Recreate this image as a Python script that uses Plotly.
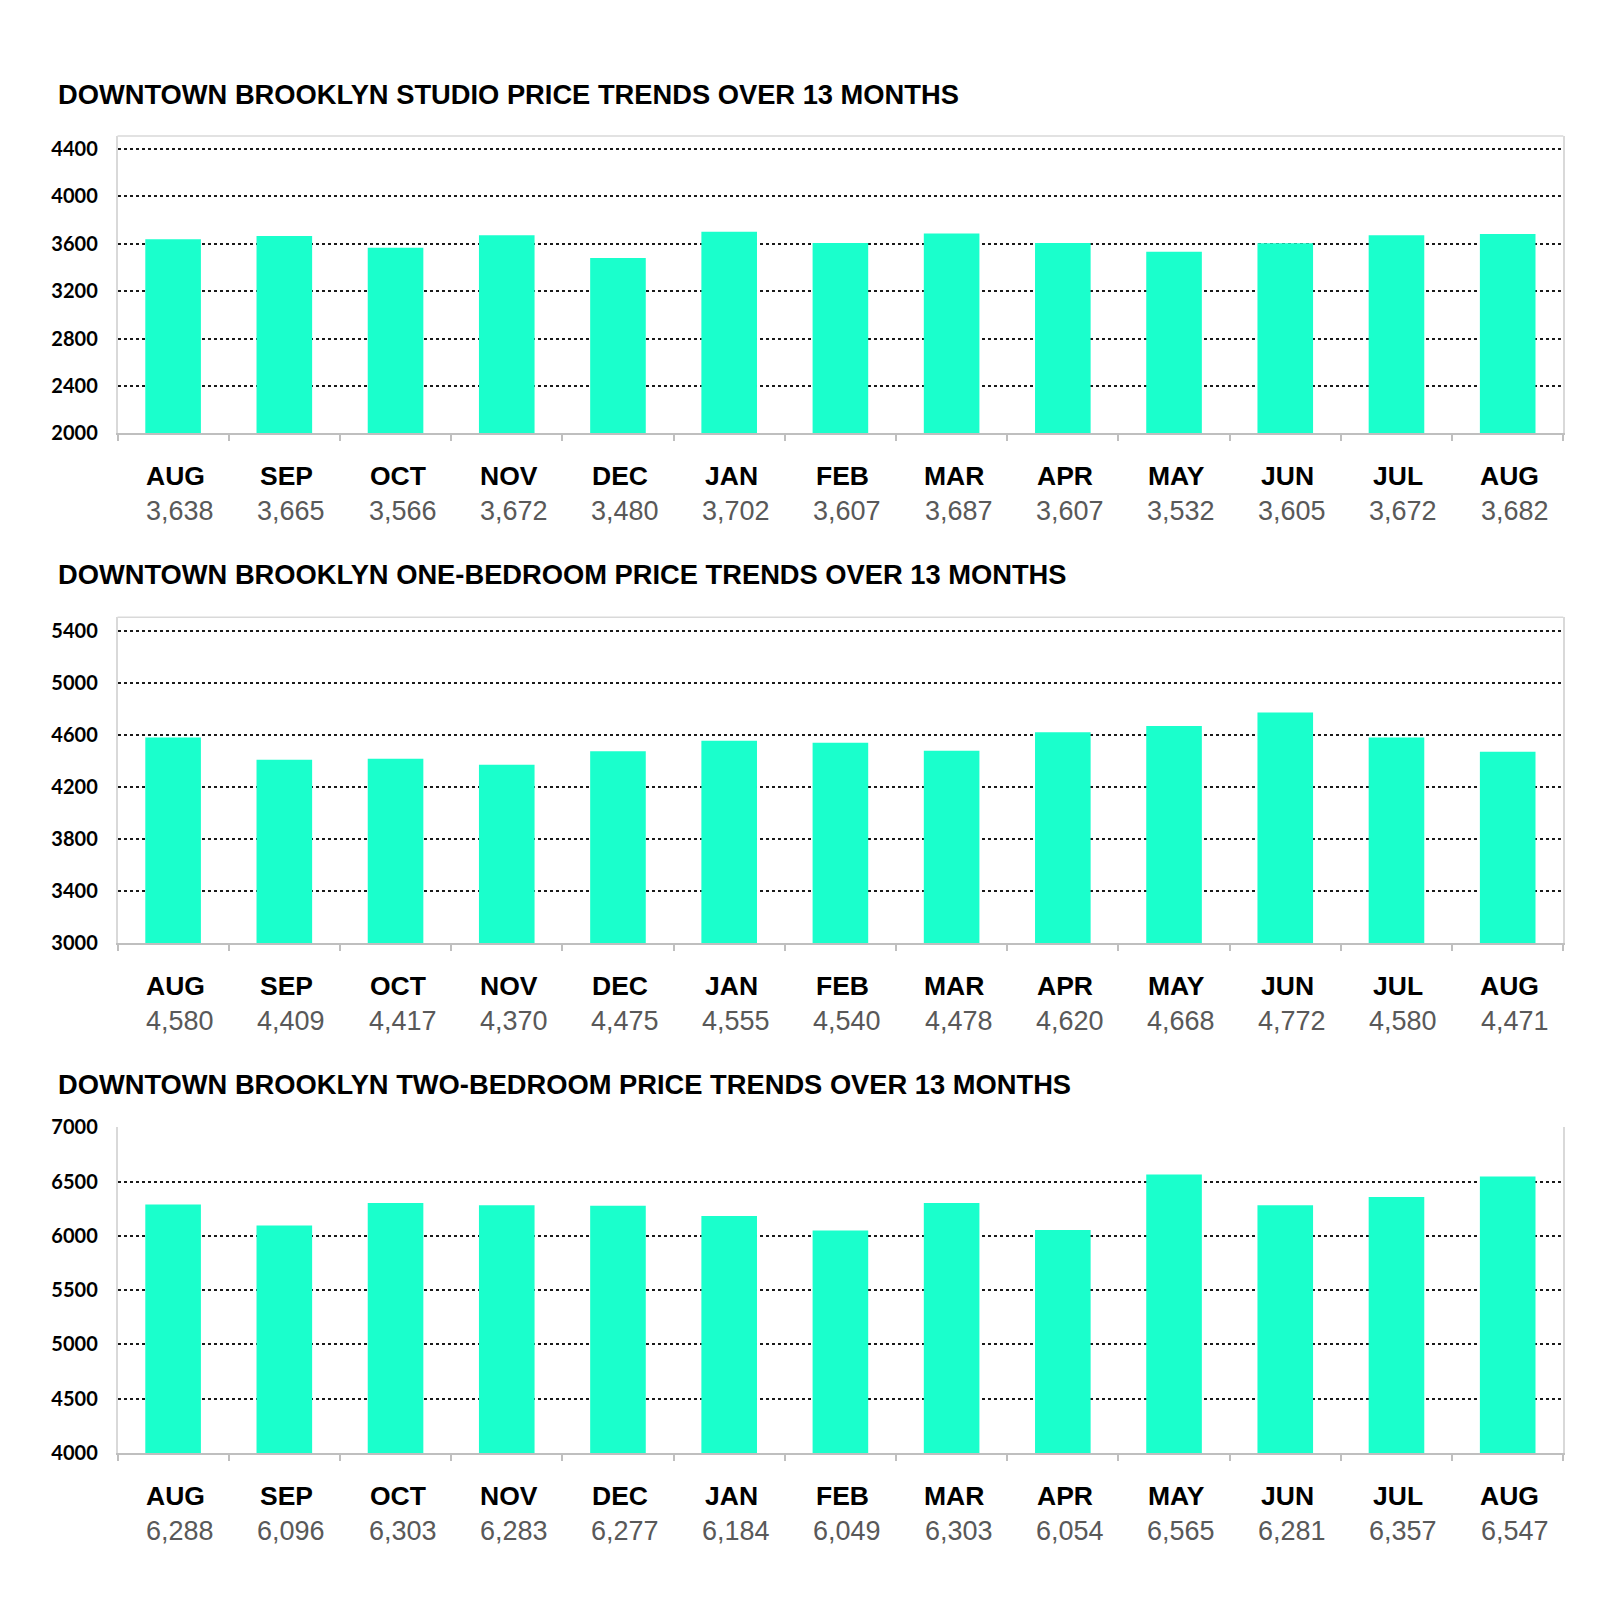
import plotly.graph_objects as go

months = ["AUG", "SEP", "OCT", "NOV", "DEC", "JAN", "FEB", "MAR", "APR", "MAY", "JUN", "JUL", "AUG"]
studio = [3638, 3665, 3566, 3672, 3480, 3702, 3607, 3687, 3607, 3532, 3605, 3672, 3682]
one_bed = [4580, 4409, 4417, 4370, 4475, 4555, 4540, 4478, 4620, 4668, 4772, 4580, 4471]
two_bed = [6288, 6096, 6303, 6283, 6277, 6184, 6049, 6303, 6054, 6565, 6281, 6357, 6547]
titles = [
    "DOWNTOWN BROOKLYN STUDIO PRICE TRENDS OVER 13 MONTHS",
    "DOWNTOWN BROOKLYN ONE-BEDROOM PRICE TRENDS OVER 13 MONTHS",
    "DOWNTOWN BROOKLYN TWO-BEDROOM PRICE TRENDS OVER 13 MONTHS",
]
y_ticks = [
    [2000, 2400, 2800, 3200, 3600, 4000, 4400],
    [3000, 3400, 3800, 4200, 4600, 5000, 5400],
    [4000, 4500, 5000, 5500, 6000, 6500, 7000],
]
y_ranges = [[2000, 4510], [3000, 5503], [4000, 7000]]

# the page body has an 8px margin; size the figure so it fits the window
OFF = 8
W, H = 1600 - 2 * OFF, 1611 - 2 * OFF
BAR = "#1affcc"
# target window pixel layout (top, bottom) for each plot area, and title centre
plot_px = [(136, 433.3), (617.3, 943.3), (1127.3, 1453)]
title_px = [94, 574.5, 1084.5]
x_left, x_right = 117.5, 1563.3


def px(p):
    return (p - OFF) / W


def py(p):
    return 1 - (p - OFF) / H


series = [studio, one_bed, two_bed]
fig = go.Figure()
annotations = []
shapes = []
xs = list(range(len(months)))

for i, vals in enumerate(series):
    n = "" if i == 0 else str(i + 1)
    fig.add_trace(go.Bar(x=xs, y=vals, marker_color=BAR, marker_line_width=0,
                         xaxis="x" + n, yaxis="y" + n, showlegend=False,
                         hoverinfo="y"))
    top, bot = plot_px[i]
    fig.layout["xaxis" + n] = dict(
        domain=[px(x_left), px(x_right)], anchor="y" + n, automargin=False,
        range=[-0.5, len(months) - 0.5], showgrid=False, zeroline=False,
        showline=True, linecolor="#bfbfbf", linewidth=2,
        ticks="outside", tickvals=[k - 0.5 for k in range(len(months) + 1)],
        ticklen=6, tickwidth=1.5, tickcolor="#bfbfbf", showticklabels=False,
        fixedrange=True,
    )
    fig.layout["yaxis" + n] = dict(
        domain=[py(bot), py(top)], anchor="x" + n, automargin=False,
        range=y_ranges[i], tickvals=y_ticks[i],
        showgrid=True, gridcolor="#1a1a1a", gridwidth=1.5, griddash="dot",
        zeroline=False, showline=True, linecolor="#d9d9d9", linewidth=1.5,
        mirror=True, ticks="", ticklabelstandoff=14,
        tickfont=dict(family="Lato", size=20, color="#000000", weight="bold"),
        fixedrange=True,
    )
    if i < 2:
        shapes.append(dict(type="line", xref="x" + n + " domain", yref="y" + n + " domain",
                           x0=0, x1=1, y0=1, y1=1, line=dict(color="#d9d9d9", width=1.5)))
    annotations.append(dict(
        text=titles[i], xref="paper", yref="paper", x=px(56), y=py(title_px[i]),
        xanchor="left", yanchor="middle", showarrow=False,
        font=dict(family="Liberation Sans, Arial", size=27.3, color="#000000", weight="bold"),
    ))
    for k, (m, v) in enumerate(zip(months, vals)):
        annotations.append(dict(
            text=m, xref="x" + n, yref="paper", x=k, y=py(bot + 43), xshift=2,
            xanchor="center", yanchor="middle", showarrow=False,
            font=dict(family="Liberation Sans, Arial", size=26.5, color="#000000", weight="bold"),
        ))
        annotations.append(dict(
            text=f"{v:,}", xref="x" + n, yref="paper", x=k, y=py(bot + 78), xshift=7,
            xanchor="center", yanchor="middle", showarrow=False,
            font=dict(family="Liberation Sans, Arial", size=27, color="#595959"),
        ))

fig.update_layout(
    width=W, height=H, margin=dict(l=0, r=0, t=0, b=0, autoexpand=False),
    paper_bgcolor="white", plot_bgcolor="white",
    bargap=0.5, annotations=annotations, shapes=shapes,
)
fig.write_html("out.html")
